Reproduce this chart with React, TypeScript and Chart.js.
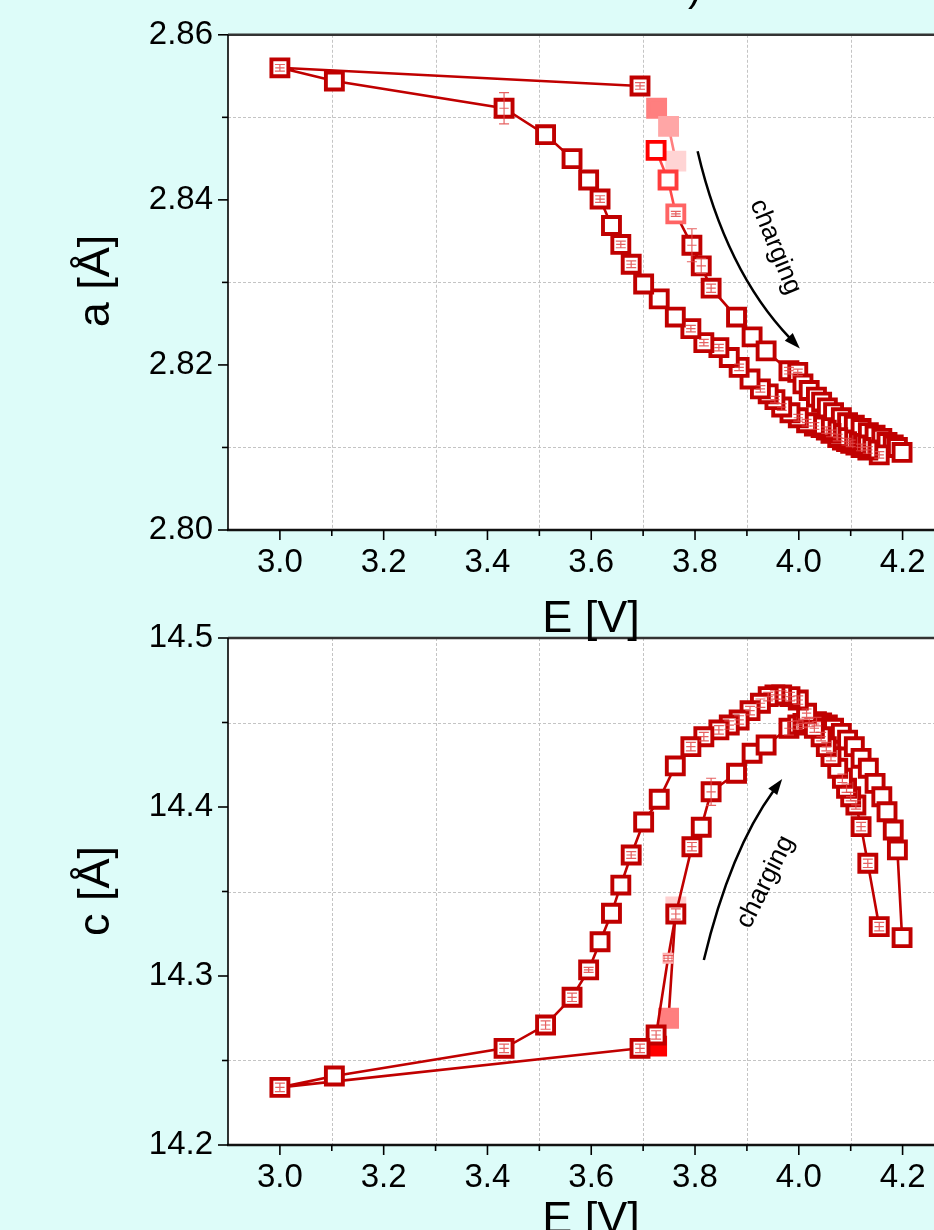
import React, { useEffect, useRef } from "react";
import { Chart, registerables } from "chart.js";

Chart.register(...registerables);

// ---------------- data ----------------
const E_TICKS = [3.0, 3.2, 3.4, 3.6, 3.8, 4.0, 4.2];
const E_MINOR = [3.1, 3.3, 3.5, 3.7, 3.9, 4.1];
const A_TICKS = [2.8, 2.82, 2.84, 2.86];
const A_MINOR = [2.81, 2.83, 2.85];
const C_TICKS = [14.2, 14.3, 14.4, 14.5];
const C_MINOR = [14.25, 14.35, 14.45];

// discharge branch (from 4.15 V down to 3.0 V, then rest at 3.69 V)
const E_DISCHARGE = [4.155, 4.133, 4.12, 4.11, 4.1, 4.092, 4.084, 4.075, 4.062, 4.053, 4.043, 4.03, 4.015, 3.999, 3.983, 3.967, 3.954, 3.941, 3.926, 3.906, 3.885, 3.866, 3.846, 3.817, 3.792, 3.762, 3.731, 3.701, 3.677, 3.657, 3.639, 3.617, 3.595, 3.563, 3.512, 3.432, 3.105, 3.0, 3.694];
const A_DISCHARGE = [2.8091, 2.8097, 2.81, 2.8103, 2.8105, 2.8107, 2.8109, 2.8112, 2.8117, 2.8121, 2.8124, 2.8126, 2.813, 2.8136, 2.8142, 2.8149, 2.8158, 2.8165, 2.8171, 2.8183, 2.8197, 2.8209, 2.8221, 2.8227, 2.8244, 2.8258, 2.828, 2.8298, 2.8322, 2.8346, 2.8369, 2.8401, 2.8424, 2.845, 2.8479, 2.8511, 2.8544, 2.856, 2.8538];
const C_DISCHARGE = [14.3292, 14.3667, 14.3884, 14.4012, 14.4061, 14.4111, 14.417, 14.4229, 14.4298, 14.4357, 14.4416, 14.4466, 14.4555, 14.4633, 14.4653, 14.4663, 14.4663, 14.4653, 14.4614, 14.457, 14.4515, 14.4485, 14.4456, 14.4416, 14.4357, 14.4243, 14.4046, 14.3911, 14.3716, 14.3538, 14.3371, 14.3203, 14.3036, 14.2874, 14.271, 14.2572, 14.2408, 14.2341, 14.2572];
const A_DISCHARGE_ERR = [0.0004, 0.0004, 0.0004, 0, 0.0004, 0.0004, 0, 0.0004, 0.0004, 0.0004, 0, 0.0004, 0.0004, 0.0004, 0, 0.0004, 0.0004, 0, 0.0004, 0, 0.0004, 0, 0.0004, 0.0004, 0.0004, 0, 0, 0, 0.0004, 0.0004, 0, 0.0004, 0, 0, 0, 0.0019, 0, 0.0004, 0.0004];
const C_DISCHARGE_ERR = [0.0025, 0.0025, 0.0025, 0.0025, 0.0025, 0.0025, 0.0025, 0, 0.0025, 0.0025, 0.0025, 0.0025, 0.0025, 0.0025, 0.0025, 0.0025, 0.0025, 0.0025, 0.0025, 0.0025, 0.0025, 0.0025, 0.0025, 0.0025, 0.0025, 0, 0, 0, 0.002, 0, 0, 0, 0.0015, 0.0025, 0.0025, 0.0025, 0, 0.0025, 0.0025];

// charge branch (from 3.72 V up to 4.2 V)
const E_CHARGE = [3.725, 3.748, 3.763, 3.794, 3.812, 3.831, 3.88, 3.91, 3.937, 3.981, 3.998, 4.008, 4.02, 4.034, 4.044, 4.055, 4.067, 4.082, 4.094, 4.107, 4.12, 4.134, 4.147, 4.16, 4.17, 4.182, 4.19, 4.199];
const A_CHARGE = [2.846, 2.8424, 2.8383, 2.8345, 2.832, 2.8293, 2.8258, 2.8234, 2.8217, 2.8193, 2.8191, 2.8177, 2.8169, 2.8161, 2.8155, 2.8148, 2.8142, 2.8136, 2.813, 2.8127, 2.8123, 2.8118, 2.8115, 2.8111, 2.8106, 2.8103, 2.81, 2.8094];
const C_CHARGE = [14.2651, 14.3105, 14.3367, 14.3765, 14.388, 14.409, 14.42, 14.4318, 14.4367, 14.4466, 14.4485, 14.4495, 14.45, 14.4505, 14.4497, 14.4485, 14.4466, 14.4436, 14.4396, 14.4357, 14.4288, 14.4229, 14.414, 14.4061, 14.3972, 14.3864, 14.3746, 14.3227];
const A_CHARGE_ERR = [0, 0, 0.0003, 0.002, 0.0009, 0.0005, 0, 0, 0, 0.0004, 0.0004, 0, 0, 0, 0, 0, 0, 0, 0, 0, 0, 0, 0, 0, 0, 0, 0, 0];
const C_CHARGE_ERR = [0.0025, 0.0015, 0.003, 0.0025, 0, 0.008, 0, 0, 0, 0.004, 0.0025, 0.0025, 0.0025, 0.0025, 0, 0, 0, 0, 0, 0, 0, 0, 0, 0, 0, 0, 0, 0];

// first (filled) points at the start of charging
const E_START = [3.726, 3.749, 3.763];
const A_START = [2.8511, 2.8489, 2.8447];
const C_START = [14.2585, 14.275, 14.3408];

const E_ERR = 0.009;

// ---------------- styles ----------------
const BG = "#ddfcf9";
const DARK = "#c00000";
const FONT = '"Liberation Sans", Arial, Helvetica, sans-serif';
const R = 12;
const BW = 3.9;

type Ann = {
  p0: [number, number];
  p1: [number, number];
  p2: [number, number];
  text: string;
  tx: number;
  ty: number;
  angle: number;
};

type Cfg = {
  yMajor: number[];
  yMinor: number[];
  errors: (number[] | null)[];
  xTitle: { text: string; x: number; y: number };
  yTitle: { text: string; x: number; y: number };
  ann: Ann;
};

function framePlugin(cfg: Cfg) {
  return {
    id: "frame",
    beforeDatasetsDraw(chart: any) {
      const { ctx, chartArea: ca, scales } = chart;
      const xs = scales.x;
      const ys = scales.y;
      ctx.save();
      ctx.fillStyle = "#ffffff";
      ctx.fillRect(ca.left, ca.top, ca.right - ca.left, ca.bottom - ca.top);
      ctx.strokeStyle = "#c4c4c4";
      ctx.lineWidth = 1;
      ctx.setLineDash([3, 2]);
      for (const v of E_MINOR) {
        const x = Math.round(xs.getPixelForValue(v)) + 0.5;
        ctx.beginPath();
        ctx.moveTo(x, ca.top);
        ctx.lineTo(x, ca.bottom);
        ctx.stroke();
      }
      for (const v of cfg.yMinor) {
        const y = Math.round(ys.getPixelForValue(v)) + 0.5;
        ctx.beginPath();
        ctx.moveTo(ca.left, y);
        ctx.lineTo(ca.right, y);
        ctx.stroke();
      }
      ctx.restore();
    },
    afterDatasetsDraw(chart: any) {
      const { ctx, scales } = chart;
      const xs = scales.x;
      const ys = scales.y;
      ctx.save();
      ctx.strokeStyle = "rgba(226,70,70,0.85)";
      ctx.lineWidth = 1.2;
      cfg.errors.forEach((errs, di) => {
        if (!errs) return;
        const ds = chart.data.datasets[di];
        ds.data.forEach((p: any, i: number) => {
          const e = errs[i];
          if (!e) return;
          const x = xs.getPixelForValue(p.x);
          const y1 = ys.getPixelForValue(p.y + e);
          const y2 = ys.getPixelForValue(p.y - e);
          const yc = ys.getPixelForValue(p.y);
          const xl = xs.getPixelForValue(p.x - E_ERR);
          const xr = xs.getPixelForValue(p.x + E_ERR);
          ctx.beginPath();
          ctx.moveTo(x, y1);
          ctx.lineTo(x, y2);
          ctx.moveTo(x - 5, y1);
          ctx.lineTo(x + 5, y1);
          ctx.moveTo(x - 5, y2);
          ctx.lineTo(x + 5, y2);
          ctx.moveTo(xl, yc);
          ctx.lineTo(xr, yc);
          ctx.stroke();
        });
      });
      ctx.restore();
    },
    afterDraw(chart: any) {
      const { ctx, chartArea: ca, scales } = chart;
      const xs = scales.x;
      const ys = scales.y;
      ctx.save();
      // frame
      ctx.strokeStyle = "#333333";
      ctx.lineWidth = 2.5;
      ctx.beginPath();
      ctx.moveTo(ca.left, ca.top);
      ctx.lineTo(ca.right, ca.top);
      ctx.stroke();
      ctx.strokeStyle = "#111111";
      ctx.beginPath();
      ctx.moveTo(ca.left - 1, ca.bottom);
      ctx.lineTo(ca.right, ca.bottom);
      ctx.stroke();
      ctx.strokeStyle = "#000000";
      ctx.lineWidth = 1.6;
      ctx.beginPath();
      ctx.moveTo(ca.left, ca.top);
      ctx.lineTo(ca.left, ca.bottom);
      ctx.stroke();
      // ticks
      ctx.lineWidth = 1.6;
      for (const v of E_TICKS) {
        const x = xs.getPixelForValue(v);
        ctx.beginPath();
        ctx.moveTo(x, ca.bottom);
        ctx.lineTo(x, ca.bottom + 10);
        ctx.stroke();
      }
      for (const v of E_MINOR) {
        const x = xs.getPixelForValue(v);
        ctx.beginPath();
        ctx.moveTo(x, ca.bottom);
        ctx.lineTo(x, ca.bottom + 6);
        ctx.stroke();
      }
      for (const v of cfg.yMajor) {
        const y = ys.getPixelForValue(v);
        ctx.beginPath();
        ctx.moveTo(ca.left - 10, y);
        ctx.lineTo(ca.left, y);
        ctx.stroke();
      }
      for (const v of cfg.yMinor) {
        const y = ys.getPixelForValue(v);
        ctx.beginPath();
        ctx.moveTo(ca.left - 6, y);
        ctx.lineTo(ca.left, y);
        ctx.stroke();
      }
      // titles
      ctx.fillStyle = "#000";
      ctx.font = `45px ${FONT}`;
      ctx.textAlign = "center";
      ctx.textBaseline = "middle";
      ctx.fillText(cfg.xTitle.text, cfg.xTitle.x, cfg.xTitle.y);
      ctx.save();
      ctx.translate(cfg.yTitle.x, cfg.yTitle.y);
      ctx.rotate(-Math.PI / 2);
      ctx.fillText(cfg.yTitle.text, 0, 0);
      ctx.restore();
      // annotation arrow + text
      const a = cfg.ann;
      const P = (p: [number, number]) => [xs.getPixelForValue(p[0]), ys.getPixelForValue(p[1])];
      const [x0, y0] = P(a.p0);
      const [x1, y1] = P(a.p1);
      const [x2, y2] = P(a.p2);
      let dx = x2 - x1;
      let dy = y2 - y1;
      const L = Math.hypot(dx, dy);
      dx /= L;
      dy /= L;
      const head = 16;
      const half = 5.5;
      const bx = x2 - dx * head;
      const by = y2 - dy * head;
      ctx.strokeStyle = "#000";
      ctx.lineWidth = 2.5;
      ctx.beginPath();
      ctx.moveTo(x0, y0);
      ctx.quadraticCurveTo(x1, y1, bx + dx * 2, by + dy * 2);
      ctx.stroke();
      ctx.beginPath();
      ctx.moveTo(x2, y2);
      ctx.lineTo(bx - dy * half, by + dx * half);
      ctx.lineTo(bx + dy * half, by - dx * half);
      ctx.closePath();
      ctx.fill();
      const [tx, ty] = P([a.tx, a.ty]);
      ctx.save();
      ctx.translate(tx, ty);
      ctx.rotate((a.angle * Math.PI) / 180);
      ctx.font = `26px ${FONT}`;
      ctx.fillText(a.text, 0, 0);
      ctx.restore();
      ctx.restore();
    },
  };
}

const pts = (xs: number[], ys: number[]) => xs.map((x, i) => ({ x, y: ys[i] }));

function baseDataset(extra: any) {
  return {
    showLine: true,
    borderColor: DARK,
    borderWidth: 2.6,
    pointStyle: "rect",
    pointRadius: R,
    pointBorderWidth: BW,
    pointBorderColor: DARK,
    pointBackgroundColor: "#ffffff",
    clip: 30,
    ...extra,
  };
}

function makeConfig(opts: {
  datasets: any[];
  yMin: number;
  yMax: number;
  yTicks: number[];
  decimals: number;
  top: number;
  xHeight: number;
  plugin: any;
}) {
  return {
    type: "scatter",
    data: { datasets: opts.datasets },
    options: {
      animation: false,
      responsive: false,
      maintainAspectRatio: false,
      devicePixelRatio: 1,
      events: [],
      layout: { padding: { left: 0, right: 9, top: opts.top, bottom: 0 } },
      plugins: {
        legend: { display: false },
        tooltip: { enabled: false },
        title: { display: false },
      },
      scales: {
        x: {
          type: "linear",
          position: "bottom",
          min: 2.9,
          max: 4.28,
          grid: { display: false, drawTicks: false },
          border: { display: false },
          ticks: {
            autoSkip: false,
            maxRotation: 0,
            padding: 13,
            color: "#000",
            font: { family: FONT, size: 33 },
            callback: (v: any) => Number(v).toFixed(1),
          },
          afterBuildTicks: (s: any) => {
            s.ticks = E_TICKS.map((value) => ({ value }));
          },
          afterFit: (s: any) => {
            s.height = opts.xHeight;
          },
        },
        y: {
          type: "linear",
          position: "left",
          min: opts.yMin,
          max: opts.yMax,
          grid: { display: false, drawTicks: false },
          border: { display: false },
          ticks: {
            autoSkip: false,
            padding: 15,
            color: "#000",
            font: { family: FONT, size: 33 },
            callback: (v: any) => Number(v).toFixed(opts.decimals),
          },
          afterBuildTicks: (s: any) => {
            s.ticks = opts.yTicks.map((value) => ({ value }));
          },
          afterFit: (s: any) => {
            s.width = 228;
          },
        },
      },
    },
    plugins: [opts.plugin],
  };
}

function topConfig() {
  const chargeColors = ["#ff0000", "#ff3c3c", "#ff6464"];
  const startColors = ["#ff7f7f", "#ffa6a6", "#ffd4d4"];
  const datasets = [
    baseDataset({ label: "discharge", data: pts(E_DISCHARGE, A_DISCHARGE) }),
    baseDataset({
      label: "charge",
      data: pts(E_CHARGE, A_CHARGE),
      pointBorderColor: E_CHARGE.map((_, i) => chargeColors[i] || DARK),
      segment: { borderColor: (c: any) => (c.p0DataIndex < 2 ? "#ff4a4a" : DARK) },
    }),
    baseDataset({
      label: "start",
      data: pts(E_START, A_START),
      borderColor: "#ff8080",
      pointBorderColor: startColors,
      pointBackgroundColor: startColors,
    }),
  ];
  return makeConfig({
    datasets,
    yMin: 2.8,
    yMax: 2.86,
    yTicks: A_TICKS,
    decimals: 2,
    top: 33,
    xHeight: 120,
    plugin: framePlugin({
      yMajor: A_TICKS,
      yMinor: A_MINOR,
      errors: [A_DISCHARGE_ERR, A_CHARGE_ERR, null],
      xTitle: { text: "E [V]", x: 591, y: 620 },
      yTitle: { text: "a [Å]", x: 97, y: 281 },
      ann: {
        p0: [3.805, 2.8459],
        p1: [3.859, 2.8314],
        p2: [4.002, 2.822],
        text: "charging",
        tx: 3.955,
        ty: 2.8343,
        angle: 68,
      },
    }),
  });
}

function bottomConfig() {
  const startColors = ["#ff0000", "#ff7f7f", "#ffd0d0"];
  const datasets = [
    baseDataset({ label: "discharge", data: pts(E_DISCHARGE, C_DISCHARGE) }),
    baseDataset({
      label: "charge",
      data: pts(E_CHARGE, C_CHARGE),
      pointBorderColor: E_CHARGE.map((_, i) => (i === 1 ? "#ffb0b0" : DARK)),
      pointRadius: E_CHARGE.map((_, i) => (i === 1 ? 6 : R)),
      pointBorderWidth: E_CHARGE.map((_, i) => (i === 1 ? 2.5 : BW)),
    }),
    baseDataset({
      label: "start",
      data: pts(E_START, C_START),
      pointBorderColor: startColors,
      pointBackgroundColor: startColors,
    }),
  ];
  return makeConfig({
    datasets,
    yMin: 14.2,
    yMax: 14.5,
    yTicks: C_TICKS,
    decimals: 1,
    top: 38,
    xHeight: 85,
    plugin: framePlugin({
      yMajor: C_TICKS,
      yMinor: C_MINOR,
      errors: [C_DISCHARGE_ERR, C_CHARGE_ERR, null],
      xTitle: { text: "E [V]", x: 591, y: 621 },
      yTitle: { text: "c [Å]", x: 97, y: 291 },
      ann: {
        p0: [3.817, 14.3095],
        p1: [3.868, 14.3746],
        p2: [3.968, 14.4166],
        text: "charging",
        tx: 3.936,
        ty: 14.3556,
        angle: -63.5,
      },
    }),
  });
}

function ChartCanvas(props: { make: () => any; top: number; width: number; height: number; z: number }) {
  const ref = useRef<HTMLCanvasElement | null>(null);
  useEffect(() => {
    const chart = new Chart(ref.current as HTMLCanvasElement, props.make());
    return () => chart.destroy();
  }, []);
  return (
    <canvas
      ref={ref}
      width={props.width}
      height={props.height}
      style={{
        position: "absolute",
        left: 0,
        top: props.top,
        width: props.width,
        height: props.height,
        zIndex: props.z,
        display: "block",
      }}
    />
  );
}

export default function App() {
  return (
    <div
      style={{
        position: "fixed",
        left: 0,
        top: 0,
        width: 934,
        height: 1230,
        overflow: "hidden",
        background: BG,
        fontFamily: FONT,
      }}
    >
      <div
        style={{
          position: "absolute",
          left: 688,
          top: -33,
          fontSize: 40,
          lineHeight: "40px",
          color: "#000",
          zIndex: 3,
        }}
      >
        )
      </div>
      <ChartCanvas make={topConfig} top={0} width={960} height={650} z={2} />
      <ChartCanvas make={bottomConfig} top={600} width={960} height={630} z={1} />
    </div>
  );
}
